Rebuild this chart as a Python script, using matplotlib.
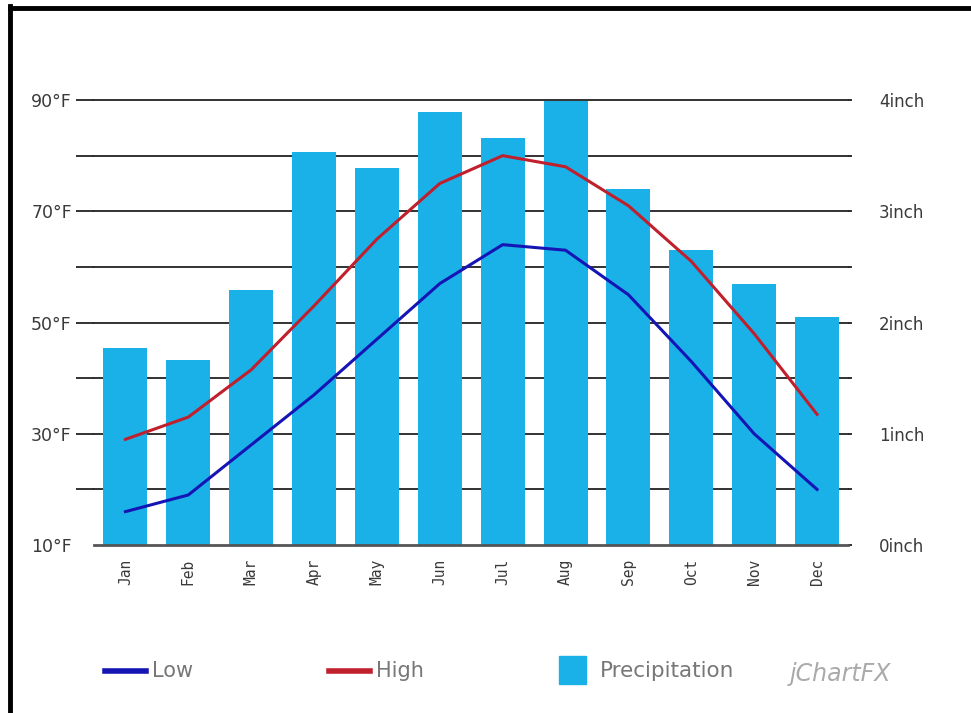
import numpy as np
import matplotlib
matplotlib.use("Agg")
from matplotlib import pyplot as plt
from matplotlib.lines import Line2D
from matplotlib.patches import Rectangle

months = ['Jan', 'Feb', 'Mar', 'Apr', 'May', 'Jun', 'Jul', 'Aug', 'Sep', 'Oct', 'Nov', 'Dec']
low = [16, 19, 28, 37, 47, 57, 64, 63, 55, 43, 30, 20]
high = [29, 33, 41.5, 53, 65, 75, 80, 78, 71, 61, 48, 33.5]
precip = [1.77, 1.66, 2.29, 3.53, 3.39, 3.89, 3.66, 3.99, 3.2, 2.65, 2.35, 2.05]

temp_ticks = [10, 30, 50, 70, 90]
rain_ticks = [0, 1, 2, 3, 4]

bar_color = '#1ab0e8'
low_color = '#1515b5'
high_color = '#c01f2c'
text_color = '#3a3a3a'

fig = plt.figure(figsize=(9.71, 7.13), dpi=100)
ax = fig.add_axes([0.0968, 0.2356, 0.777, 0.6241])
ax2 = ax.twinx()

x = np.arange(len(months))

# bars on the inch axis, lines on the temperature axis
ax2.bar(x, precip, width=0.7, color=bar_color, zorder=2)
ax2.set_ylim(0, 4)
ax.set_ylim(10, 90)
ax.set_xlim(-0.5, 11.5)

# gridlines every 10F drawn by hand on the temp axis
for t in range(20, 91, 10):
    ax2.plot([-0.5, 11.5], [(t - 10) / 20.0] * 2, color='#222222', lw=1.3, zorder=1,
             clip_on=False)
ax2.plot([-0.5, 11.5], [0, 0], color='#555555', lw=2, zorder=3, clip_on=False)

ax2.set_zorder(1)
ax.set_zorder(2)
ax.patch.set_visible(False)

ax.plot(x, low, color=low_color, lw=2.2, zorder=4)
ax.plot(x, high, color=high_color, lw=2.2, zorder=4)

for a in (ax, ax2):
    for s in a.spines.values():
        s.set_visible(False)

ax.set_yticks(range(10, 91, 10))
ax.set_yticklabels([('%d°F' % t) if t in temp_ticks else '' for t in range(10, 91, 10)],
                   fontsize=12.5, color=text_color)
ax.tick_params(axis='y', length=13, width=1.3, color='#222222', pad=3)
ax.yaxis.get_major_ticks()[0].tick1line.set_visible(False)

ax2.set_yticks(np.arange(0, 4.01, 0.5))
ax2.set_yticklabels([('%dinch' % r) if float(r).is_integer() else '' for r in np.arange(0, 4.01, 0.5)],
                    fontsize=12, color=text_color)
ax2.tick_params(axis='y', length=3, width=1.3, color='#222222', pad=19)

ax.set_xticks(x)
ax.set_xticklabels(months, rotation=90, family='DejaVu Sans Mono', fontsize=10.5, color=text_color)
ax.tick_params(axis='x', length=0, pad=10)
ax2.tick_params(axis='x', length=0)

# legend row at the bottom
fig.add_artist(Line2D([0.108, 0.150], [0.059, 0.059], color=low_color, lw=4))
fig.text(0.157, 0.059, 'Low', fontsize=15, color='#777777', va='center')
fig.add_artist(Line2D([0.339, 0.381], [0.059, 0.059], color=high_color, lw=4))
fig.text(0.387, 0.059, 'High', fontsize=15, color='#777777', va='center')
fig.add_artist(Rectangle((0.576, 0.040), 0.028, 0.040, color=bar_color, transform=fig.transFigure))
fig.text(0.618, 0.059, 'Precipitation', fontsize=15.5, color='#777777', va='center')
fig.text(0.813, 0.055, 'jChartFX', fontsize=17, color='#aaaaaa', style='italic', va='center')

# frame
fig.add_artist(Line2D([0.0103, 0.0103], [0.0, 0.991], color='black', lw=3.5))
fig.add_artist(Line2D([0.0103, 1.0], [0.989, 0.989], color='black', lw=3.5))

fig.savefig('out.png', dpi=100, facecolor='white')
